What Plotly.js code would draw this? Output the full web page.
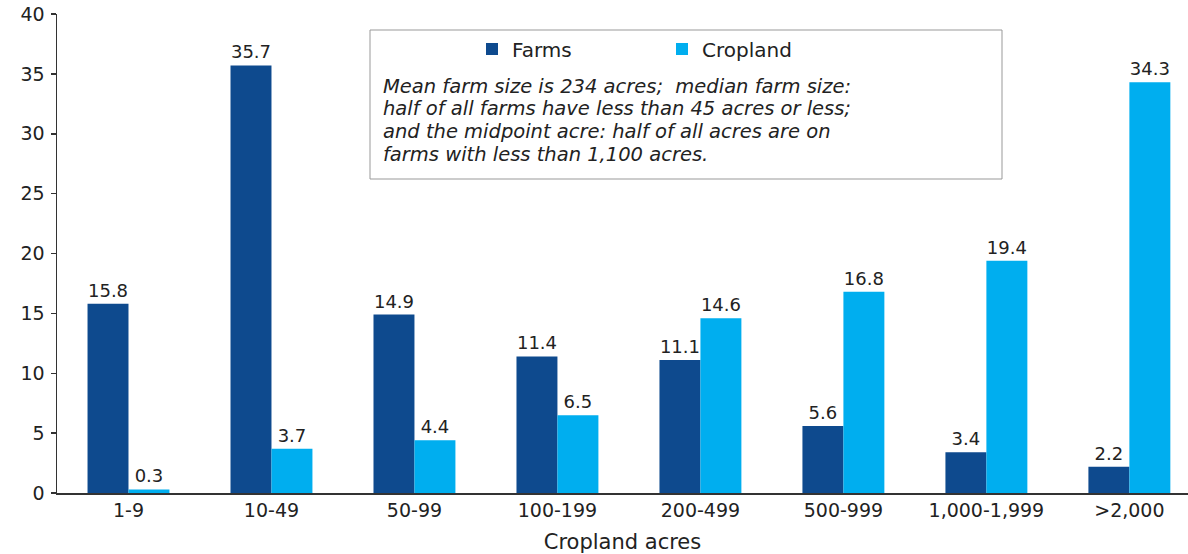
<!DOCTYPE html>
<html>
<head>
<meta charset="utf-8">
<script src="https://cdn.plot.ly/plotly-3.0.1.min.js"></script>
<style>html,body{margin:0;padding:0;background:#fff;}#chart{width:1188px;height:554px;}</style>
</head>
<body>
<div id="chart"></div>
<script>
const categories = ["1-9", "10-49", "50-99", "100-199", "200-499", "500-999", "1,000-1,999", ">2,000"];
const farms = [15.8, 35.7, 14.9, 11.4, 11.1, 5.6, 3.4, 2.2];
const cropland = [0.3, 3.7, 4.4, 6.5, 14.6, 16.8, 19.4, 34.3];
const yTicks = [0, 5, 10, 15, 20, 25, 30, 35, 40];
const noteLines = [
  "Mean farm size is 234 acres;  median farm size:",
  "half of all farms have less than 45 acres or less;",
  "and the midpoint acre: half of all acres are on",
  "farms with less than 1,100 acres."
];

const FONT = "DejaVu Sans, Verdana, Arial, sans-serif";
const W = 1188, H = 554;
const L = 57, R = 0, T = 14, B = 61;
const pw = W - L - R, ph = H - T - B;
const px = x => (x - L) / pw;
const py = y => (H - B - y) / ph;

const traces = [
  {type: "bar", name: "Farms", x: categories, y: farms,
   marker: {color: "#0e4a8e"},
   text: farms.map(v => v.toFixed(1)), texttemplate: "%{text}",
   textposition: "outside", cliponaxis: false,
   textfont: {family: FONT, size: 18, color: "#222"}},
  {type: "bar", name: "Cropland", x: categories, y: cropland,
   marker: {color: "#00aeef"},
   text: cropland.map(v => v.toFixed(1)), texttemplate: "%{text}",
   textposition: "outside", cliponaxis: false,
   textfont: {family: FONT, size: 18, color: "#222"}}
];

const noteAnnotations = noteLines.map((line, i) => ({
  xref: "paper", yref: "paper", x: px(381), y: py(86 + i * 22.7),
  xanchor: "left", yanchor: "middle", align: "left", showarrow: false,
  text: line,
  font: {family: FONT, size: 19.5, color: "#222", style: "italic"}
}));

const layout = {
  width: W, height: H,
  margin: {l: L, r: R, t: T, b: B, pad: 0},
  paper_bgcolor: "#fff", plot_bgcolor: "#fff",
  font: {family: FONT, color: "#222"},
  barmode: "group", bargap: 0.427, bargroupgap: 0,
  xaxis: {
    type: "category", range: [-0.5, 7.41],
    showline: true, linecolor: "#333", linewidth: 1.5,
    ticks: "", showgrid: false, zeroline: false,
    tickfont: {family: FONT, size: 19, color: "#222"},
    title: {text: "Cropland acres", font: {family: FONT, size: 21, color: "#222"}, standoff: 14}
  },
  yaxis: {
    range: [0, 40], tickvals: yTicks, ticktext: yTicks.map(String),
    showline: true, linecolor: "#333", linewidth: 1.5,
    ticks: "outside", ticklen: 5, tickcolor: "#333", tickwidth: 1.5,
    ticklabelstandoff: 2,
    showgrid: false, zeroline: false,
    tickfont: {family: FONT, size: 19, color: "#222"}
  },
  showlegend: true,
  legend: {
    orientation: "h", x: px(472), xanchor: "left", y: py(49), yanchor: "middle",
    bgcolor: "rgba(0,0,0,0)", borderwidth: 0,
    font: {family: FONT, size: 20, color: "#222"},
    entrywidth: 145, entrywidthmode: "pixels"
  },
  shapes: [
    {type: "rect", xref: "paper", yref: "paper",
     x0: px(370), x1: px(1002), y0: py(179), y1: py(30),
     line: {color: "#999", width: 1}, fillcolor: "rgba(0,0,0,0)", layer: "below"}
  ],
  annotations: noteAnnotations
};

Plotly.newPlot("chart", traces, layout, {displayModeBar: false, staticPlot: true});
</script>
</body>
</html>
